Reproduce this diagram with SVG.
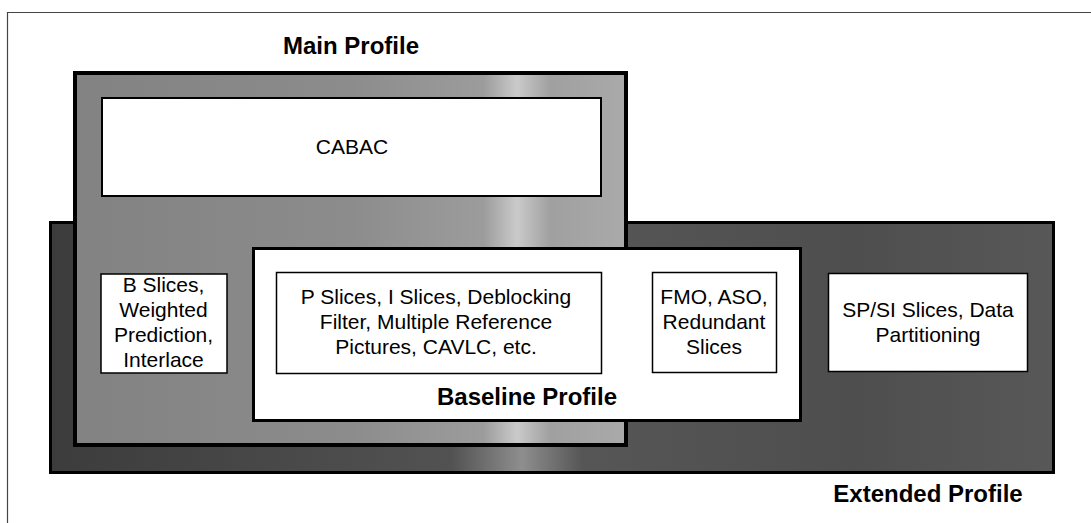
<svg xmlns="http://www.w3.org/2000/svg" width="1091" height="523" viewBox="0 0 1091 523">
  <defs>
    <style>
      .t { font-family: "Liberation Sans", Arial, sans-serif; font-size: 21px; fill: #000; text-anchor: middle; }
      .b { font-family: "Liberation Sans", Arial, sans-serif; font-size: 24px; font-weight: bold; fill: #000; text-anchor: middle; }
      .box { fill: #fff; stroke: #000; stroke-width: 1.5; }
    </style>
    <linearGradient id="gMain" x1="73" y1="0" x2="628" y2="0" gradientUnits="userSpaceOnUse">
      <stop offset="0" stop-color="#828282"/>
      <stop offset="0.5" stop-color="#8c8c8c"/>
      <stop offset="0.74" stop-color="#9c9c9c"/>
      <stop offset="0.8" stop-color="#cacaca"/>
      <stop offset="0.86" stop-color="#a0a0a0"/>
      <stop offset="1" stop-color="#aaaaaa"/>
    </linearGradient>
    <linearGradient id="gExt" x1="49" y1="0" x2="1055" y2="0" gradientUnits="userSpaceOnUse">
      <stop offset="0" stop-color="#3c3c3c"/>
      <stop offset="0.4" stop-color="#525252"/>
      <stop offset="0.47" stop-color="#8e8e8e"/>
      <stop offset="0.53" stop-color="#565656"/>
      <stop offset="0.8" stop-color="#4e4e4e"/>
      <stop offset="1" stop-color="#585858"/>
    </linearGradient>
  </defs>

  <g id="frame">
    <path d="M7.5 523 V12.5 H1091" fill="none" stroke="#444" stroke-width="1.2"/>
  </g>

  <g id="extended-profile">
    <rect x="50.5" y="222.5" width="1003" height="250" fill="url(#gExt)" stroke="#000" stroke-width="3"/>
    <text class="b" x="928" y="502">Extended Profile</text>
  </g>

  <g id="main-profile">
    <rect x="75" y="73" width="551" height="372" fill="url(#gMain)" stroke="#000" stroke-width="4"/>
    <text class="b" x="351" y="54">Main Profile</text>
  </g>

  <g id="cabac">
    <rect x="102" y="98" width="499" height="98" fill="#fff" stroke="#000" stroke-width="2"/>
    <text class="t" x="352" y="154">CABAC</text>
  </g>

  <g id="b-slices">
    <rect class="box" x="101" y="274" width="126" height="99"/>
    <text class="t" x="163.5" y="292">B Slices,</text>
    <text class="t" x="163.5" y="317">Weighted</text>
    <text class="t" x="163.5" y="342">Prediction,</text>
    <text class="t" x="163.5" y="367">Interlace</text>
  </g>

  <g id="baseline-profile">
    <rect x="253.5" y="248.5" width="547" height="172" fill="#fff" stroke="#000" stroke-width="3"/>
    <text class="b" x="527" y="405">Baseline Profile</text>
  </g>

  <g id="p-slices">
    <rect class="box" x="276.5" y="272.5" width="325" height="101"/>
    <text class="t" x="436" y="304">P Slices, I Slices, Deblocking</text>
    <text class="t" x="436" y="329">Filter, Multiple Reference</text>
    <text class="t" x="436" y="354">Pictures, CAVLC, etc.</text>
  </g>

  <g id="fmo">
    <rect class="box" x="652.5" y="272.5" width="124" height="100"/>
    <text class="t" x="714" y="304">FMO, ASO,</text>
    <text class="t" x="714" y="329">Redundant</text>
    <text class="t" x="714" y="354">Slices</text>
  </g>

  <g id="sp-si">
    <rect class="box" x="828.5" y="273.5" width="199" height="98"/>
    <text class="t" x="928" y="317">SP/SI Slices, Data</text>
    <text class="t" x="928" y="342">Partitioning</text>
  </g>

  <g id="connectors"/>
</svg>
